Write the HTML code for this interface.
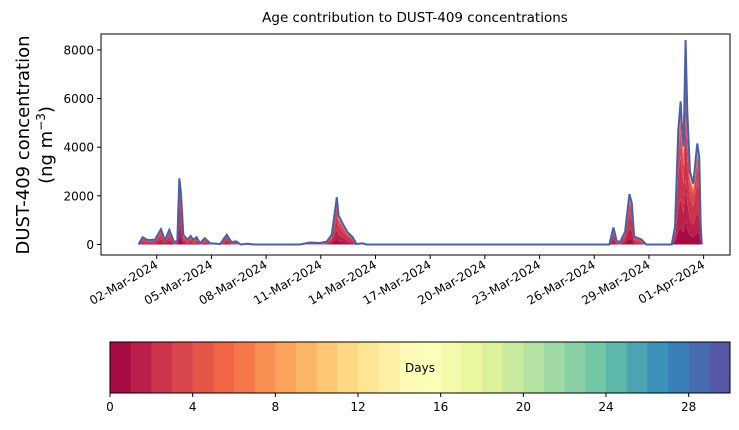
<!DOCTYPE html>
<html><head><meta charset="utf-8"><style>
body{margin:0;background:#fff;font-family:"Liberation Sans","DejaVu Sans",sans-serif}
svg text{font-family:"DejaVu Sans","Liberation Sans",sans-serif}
</style></head><body>
<svg id="c" width="739" height="425" xmlns="http://www.w3.org/2000/svg"></svg>
<script>
const times=[0,0.22,0.5,0.9,1.23,1.45,1.69,1.95,2.13,2.24,2.33,2.46,2.68,2.86,3.0,3.19,3.37,3.63,3.93,4.48,4.84,5.1,5.35,5.6,6.0,6.3,8.86,9.4,9.95,10.33,10.6,10.88,10.97,11.2,11.47,11.75,11.95,12.3,12.5,25.83,26.05,26.23,26.42,26.69,26.93,27.06,27.19,27.34,27.6,27.85,29.25,29.43,29.61,29.74,29.8,29.9,30.01,30.1,30.25,30.43,30.65,30.76,30.84,30.9];
const totals=[0,300,180,200,630,180,600,100,150,2720,2100,400,200,350,200,300,50,260,50,20,400,100,130,0,30,0,0,80,60,120,400,1940,1200,860,500,300,20,50,0,0,700,150,100,520,2070,1700,320,280,200,0,0,730,4700,5880,4980,4030,8410,5550,3000,2500,4150,3600,750,0];
const ageFractions=[0.12,0.2,0.3,0.18,0.07,0.03,0.015,0.01,0.008,0.006,0.005,0.004,0.004,0.003,0.003,0.003,0.003,0.003,0.003,0.003,0.003,0.003,0.003,0.003,0.003,0.003,0.003,0.004,0.004,0.01];
const yTicks=[0,2000,4000,6000,8000];
const dateLabels=["02-Mar-2024","05-Mar-2024","08-Mar-2024","11-Mar-2024","14-Mar-2024","17-Mar-2024","20-Mar-2024","23-Mar-2024","26-Mar-2024","29-Mar-2024","01-Apr-2024"];
const dateDays=[1,4,7,10,13,16,19,22,25,28,31];
const cbTicks=[0,4,8,12,16,20,24,28];

const NS="http://www.w3.org/2000/svg",svg=document.getElementById('c');
function el(t,a,p){const e=document.createElementNS(NS,t);for(const k in a)e.setAttribute(k,a[k]);(p||svg).appendChild(e);return e;}
const L=101,R=730,T=34,B=255;
const xs=d=>138.5+d*18.23, ys=v=>244.5-v*0.02432;
const stops=["#9e0142","#d53e4f","#f46d43","#fdae61","#fee08b","#ffffbf","#e6f598","#abdda4","#66c2a5","#3288bd","#5e4fa2"];
function spec(t){const p=t*10,i=Math.min(9,Math.floor(p)),f=p-i;const a=stops[i],b=stops[i+1];const c=[1,3,5].map(j=>Math.round(parseInt(a.substr(j,2),16)*(1-f)+parseInt(b.substr(j,2),16)*f));return `rgb(${c})`;}
const binColor=k=>spec((k+0.5)/30);

const title=el('text',{x:415,y:22,'text-anchor':'middle','font-size':13.5});title.textContent='Age contribution to DUST-409 concentrations';



const layers=el('g',{});


let cum=times.map(()=>0);
ageFractions.forEach((f,k)=>{
  const lo=cum.slice(); cum=cum.map((c,i)=>c+totals[i]*f);
  let d='M'+times.map((t,i)=>xs(t)+','+ys(cum[i])).join('L');
  for(let i=times.length-1;i>=0;i--)d+='L'+xs(times[i])+','+ys(lo[i]);
  const p=el('path',{d:d+'Z',fill:binColor(k),stroke:'none'},layers);
  
  
});
const line=el('path',{d:'M'+times.map((t,i)=>xs(t)+','+ys(totals[i])).join('L'),fill:'none',stroke:'#4a5fa8','stroke-width':2});



const fr=el('rect',{x:L,y:T,width:R-L,height:B-T,fill:'none',stroke:'#000','stroke-width':1});


yTicks.forEach(v=>{const y=ys(v);el('line',{x1:L-4,x2:L,y1:y,y2:y,stroke:'#000'});
  const t=el('text',{x:L-7,y:y+4.5,'text-anchor':'end','font-size':12});t.textContent=v;
  
  });
dateDays.forEach((d,i)=>{const x=xs(d);el('line',{x1:x,x2:x,y1:B,y2:B+4,stroke:'#000'});
  const t=el('text',{x:x+2,y:B+12,'text-anchor':'end','font-size':12,transform:`rotate(-30 ${x+2} ${B+12})`});t.textContent=dateLabels[i];
  
  });
const yl=el('text',{transform:'translate(29,145) rotate(-90)','text-anchor':'middle','font-size':18});yl.textContent='DUST-409 concentration';


const yl2=el('text',{transform:'translate(52,145) rotate(-90)','text-anchor':'middle','font-size':18});yl2.innerHTML='(ng m<tspan font-size="12" dy="-7">−3</tspan><tspan dy="7">)</tspan>';



const cb=el('g',{});


const cx0=110,cx1=730,cw=(cx1-cx0)/30;
for(let k=0;k<30;k++){el('rect',{x:cx0+k*cw,y:342,width:cw+0.5,height:51,fill:binColor(k)},cb);}
el('rect',{x:cx0,y:342,width:cx1-cx0,height:51,fill:'none',stroke:'#000'},cb);
cbTicks.forEach(v=>{const x=cx0+v*cw;el('line',{x1:x,x2:x,y1:393,y2:397,stroke:'#000'},cb);
  const t=el('text',{x:x,y:411,'text-anchor':'middle','font-size':12},cb);t.textContent=v;
  
  });
const dl=el('text',{x:420,y:372,'text-anchor':'middle','font-size':12},cb);dl.textContent='Days';


</script>
</body></html>
